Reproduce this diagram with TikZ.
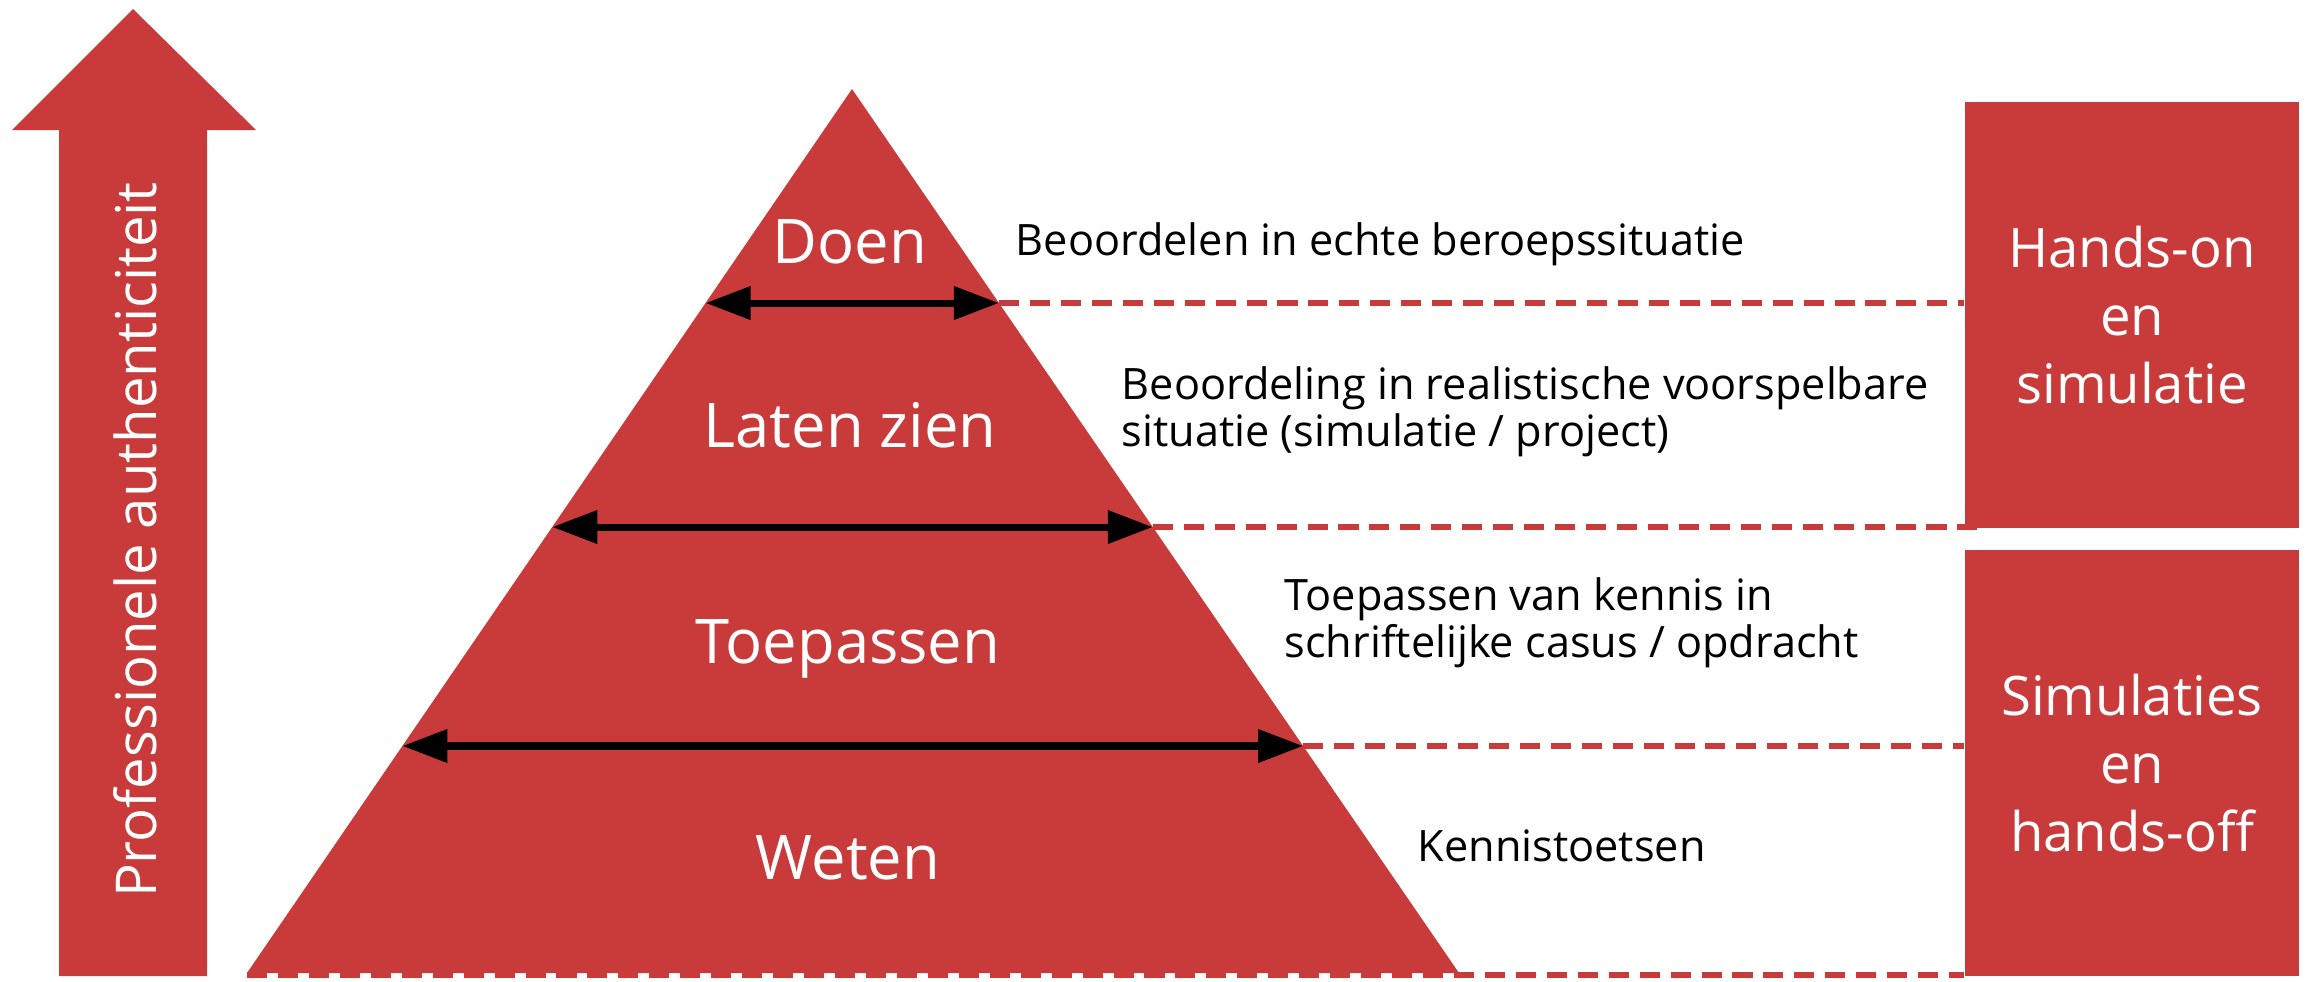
\documentclass[tikz,border=0pt]{standalone}
\usepackage{fontspec}
\setmainfont{Open Sans}
\usetikzlibrary{arrows.meta,calc,backgrounds}
\definecolor{hred}{RGB}{200,59,58}
\begin{document}
\begin{tikzpicture}[x=0.01cm,y=-0.01cm,
  lvl/.style={text=white,font=\fontsize{17.5}{20}\selectfont,anchor=base,inner sep=0pt},
  desc/.style={anchor=west,align=left,font=\fontsize{12.3}{13.4}\selectfont,inner sep=0pt},
  boxnode/.style={fill=hred,text=white,minimum width=3.34cm,minimum height=4.26cm,align=center,font=\fontsize{15.5}{19.3}\selectfont,inner sep=0pt},
  dashline/.style={draw=hred,line width=1.7pt,dash pattern=on 5.7pt off 3.1pt},
  dbl/.style={{Triangle[length=0.45cm,width=0.32cm]}-{Triangle[length=0.45cm,width=0.32cm]},line width=2pt,draw=black}
]
\useasboundingbox (0,0) rectangle (2319,981);
% big arrow
\fill[hred] (59,976) -- (59,130) -- (12,130) -- (133,9) -- (256,130) -- (207,130) -- (207,976) -- cycle;
\node[rotate=90,text=white,font=\fontsize{16}{18}\selectfont,inner sep=0pt] (auth) at (135,540) {Professionele authenticiteit};
% pyramid
\coordinate (apex) at (852,89);
\coordinate (BL) at (247,973);
\coordinate (BR) at (1459,973);
\fill[hred] (apex) -- (BL) -- (BR) -- cycle;
\coordinate (L1) at ($(apex)!0.2421!(BL)$);
\coordinate (R1) at ($(apex)!0.2421!(BR)$);
\coordinate (L2) at ($(apex)!0.4955!(BL)$);
\coordinate (R2) at ($(apex)!0.4955!(BR)$);
\coordinate (L3) at ($(apex)!0.7432!(BL)$);
\coordinate (R3) at ($(apex)!0.7432!(BR)$);
\coordinate (B0) at (247,975);
% labels
\node[lvl] (doen) at (850,263) {Doen};
\node[lvl] (laten) at (850,447) {Laten zien};
\node[lvl] (toep) at (848,663) {Toepassen};
\node[lvl] (weten) at (848,879) {Weten};
% double arrows
\draw[dbl] (L1) -- (R1);
\draw[dbl] (L2) -- (R2);
\draw[dbl] (L3) -- (R3);
% boxes
\node[boxnode] (box1) at (2132,315) {Hands-on\\en\\simulatie};
\node[boxnode] (box2) at (2132,763) {Simulaties\\en\\hands-off};
% dashed lines
\begin{scope}[on background layer]
\draw[dashline] (R1) -- (R1 -| box1.west);
\draw[dashline] (R2) -- ($(R2 -| box1.west)+(23,0)$);
\draw[dashline] (R3) -- (R3 -| box2.west);
\draw[dashline] (B0) -- (B0 -| box2.west);
\end{scope}
% descriptions
\node[desc] (d1) at (1015,244) {Beoordelen in echte beroepssituatie};
\node[desc] (d2) at (1121,412) {Beoordeling in realistische voorspelbare\\situatie (simulatie / project)};
\node[desc] (d3) at (1284,623) {Toepassen van kennis in\\schriftelijke casus / opdracht};
\node[desc] (d4) at (1417,846) {Kennistoetsen};
\end{tikzpicture}
\end{document}
